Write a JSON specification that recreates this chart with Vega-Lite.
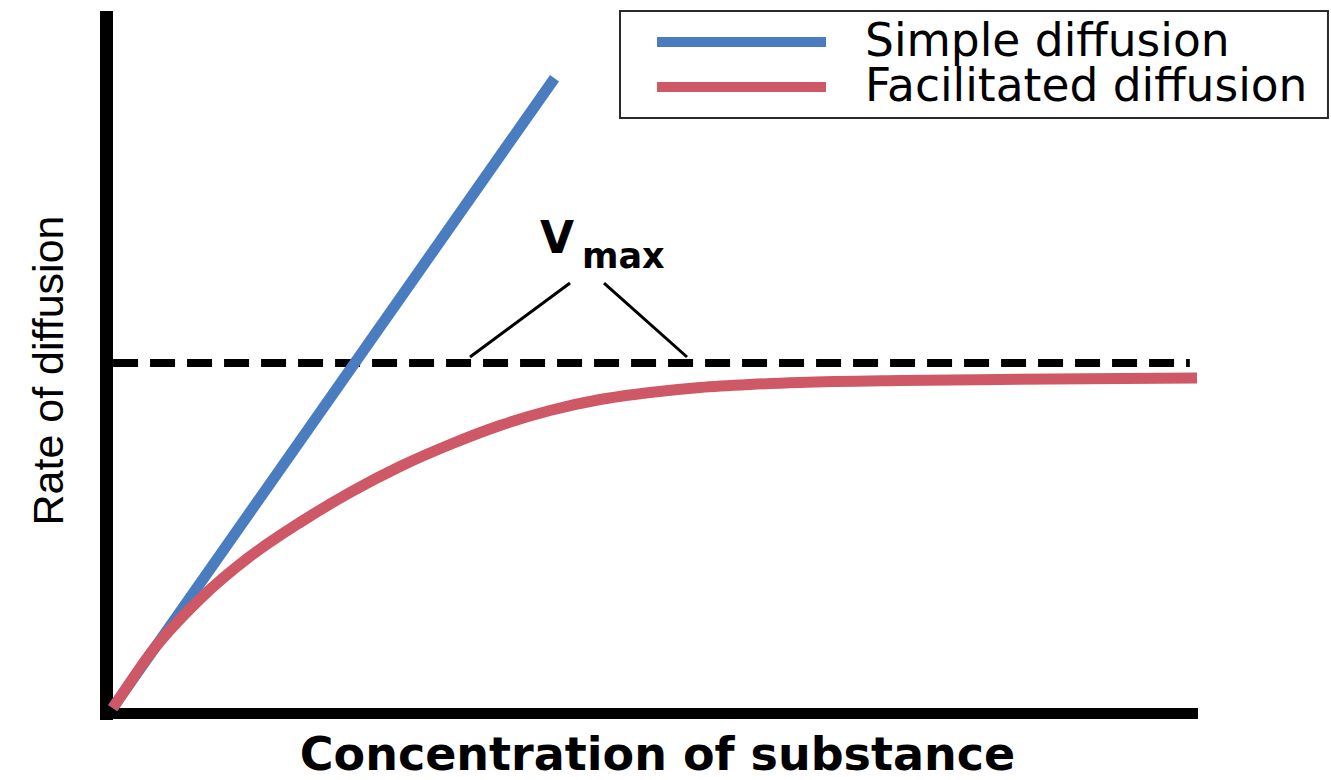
{
  "$schema": "https://vega.github.io/schema/vega-lite/v6.json",
  "width": 1086,
  "height": 696,
  "autosize": {"type": "none"},
  "padding": {"left": 106, "top": 17, "right": 139, "bottom": 67},
  "background": "white",
  "config": {"view": {"stroke": null}},
  "data": {"values": [{"note": "annotation"}]},
  "datasets": {
    "simple": [
      {"conc": 0.06, "rate": 0.07, "series": "Simple diffusion"},
      {"conc": 4.13, "rate": 9.12, "series": "Simple diffusion"}
    ],
    "facilitated": [
      {"conc": 0.064, "rate": 0.072, "series": "Facilitated diffusion"},
      {"conc": 0.175, "rate": 0.33, "series": "Facilitated diffusion"},
      {"conc": 0.405, "rate": 0.848, "series": "Facilitated diffusion"},
      {"conc": 0.866, "rate": 1.638, "series": "Facilitated diffusion"},
      {"conc": 1.326, "rate": 2.249, "series": "Facilitated diffusion"},
      {"conc": 1.786, "rate": 2.737, "series": "Facilitated diffusion"},
      {"conc": 2.247, "rate": 3.168, "series": "Facilitated diffusion"},
      {"conc": 2.707, "rate": 3.542, "series": "Facilitated diffusion"},
      {"conc": 3.168, "rate": 3.858, "series": "Facilitated diffusion"},
      {"conc": 3.628, "rate": 4.131, "series": "Facilitated diffusion"},
      {"conc": 4.088, "rate": 4.346, "series": "Facilitated diffusion"},
      {"conc": 4.549, "rate": 4.504, "series": "Facilitated diffusion"},
      {"conc": 5.009, "rate": 4.605, "series": "Facilitated diffusion"},
      {"conc": 5.47, "rate": 4.677, "series": "Facilitated diffusion"},
      {"conc": 5.93, "rate": 4.72, "series": "Facilitated diffusion"},
      {"conc": 6.39, "rate": 4.749, "series": "Facilitated diffusion"},
      {"conc": 7.311, "rate": 4.777, "series": "Facilitated diffusion"},
      {"conc": 8.232, "rate": 4.792, "series": "Facilitated diffusion"},
      {"conc": 10.046, "rate": 4.813, "series": "Facilitated diffusion"}
    ]
  },
  "layer": [
    {
      "data": {"name": "facilitated"},
      "mark": {"type": "line", "strokeWidth": 0, "opacity": 0},
      "encoding": {
        "x": {
          "field": "conc", "type": "quantitative",
          "scale": {"domain": [0, 10], "nice": false, "zero": false},
          "axis": {"title": "Concentration of substance", "ticks": false, "labels": false, "grid": false, "domain": true, "domainColor": "black", "domainWidth": 11, "domainCap": "square", "titleFont": "DejaVu Sans", "titleFontWeight": "bold", "titleFontSize": 46, "titleColor": "black", "titleAlign": "center", "titleBaseline": "alphabetic", "titleX": 551, "titleY": 56}
        },
        "y": {
          "field": "rate", "type": "quantitative",
          "scale": {"domain": [0, 10], "nice": false, "zero": false},
          "axis": {"title": "Rate of diffusion", "ticks": false, "labels": false, "grid": false, "domain": true, "domainColor": "black", "domainWidth": 13, "domainCap": "square", "titleFont": "Liberation Sans", "titleFontWeight": "normal", "titleFontSize": 43, "titleColor": "black", "titleAngle": -90, "titleAlign": "center", "titleBaseline": "alphabetic", "titleX": -44, "titleY": 353}
        }
      }
    },
    {
      "mark": {"type": "rect", "fill": "white", "stroke": "#2a2a2a", "strokeWidth": 2},
      "encoding": {
        "x": {"datum": 4.733, "type": "quantitative"},
        "x2": {"datum": 11.252},
        "y": {"datum": 10.086, "type": "quantitative"},
        "y2": {"datum": 8.549}
      }
    },
    {
      "mark": {"type": "rule", "color": "#4A7CC0", "strokeWidth": 10},
      "encoding": {
        "x": {"datum": 5.074, "type": "quantitative"},
        "x2": {"datum": 6.63},
        "y": {"datum": 9.641, "type": "quantitative"}
      }
    },
    {
      "mark": {"type": "rule", "color": "#CE5865", "strokeWidth": 10},
      "encoding": {
        "x": {"datum": 5.074, "type": "quantitative"},
        "x2": {"datum": 6.63},
        "y": {"datum": 8.994, "type": "quantitative"}
      }
    },
    {
      "mark": {"type": "text", "font": "DejaVu Sans", "fontSize": 45.5, "align": "left", "baseline": "alphabetic", "color": "black"},
      "encoding": {
        "x": {"datum": 6.989, "type": "quantitative"},
        "y": {"datum": 9.44, "type": "quantitative"},
        "text": {"value": "Simple diffusion"}
      }
    },
    {
      "mark": {"type": "text", "font": "DejaVu Sans", "fontSize": 45.5, "align": "left", "baseline": "alphabetic", "color": "black"},
      "encoding": {
        "x": {"datum": 6.989, "type": "quantitative"},
        "y": {"datum": 8.793, "type": "quantitative"},
        "text": {"value": "Facilitated diffusion"}
      }
    },
    {
      "mark": {"type": "rule", "color": "black", "strokeWidth": 8, "strokeDash": [25, 12]},
      "encoding": {
        "x": {"datum": 0.065, "type": "quantitative"},
        "x2": {"datum": 9.98},
        "y": {"datum": 5.029, "type": "quantitative"}
      }
    },
    {
      "mark": {"type": "rule", "color": "black", "strokeWidth": 3},
      "encoding": {
        "x": {"datum": 4.273, "type": "quantitative"},
        "y": {"datum": 6.178, "type": "quantitative"},
        "x2": {"datum": 3.352},
        "y2": {"datum": 5.115}
      }
    },
    {
      "mark": {"type": "rule", "color": "black", "strokeWidth": 3},
      "encoding": {
        "x": {"datum": 4.586, "type": "quantitative"},
        "y": {"datum": 6.178, "type": "quantitative"},
        "x2": {"datum": 5.35},
        "y2": {"datum": 5.115}
      }
    },
    {
      "mark": {"type": "text", "font": "DejaVu Sans", "fontWeight": "bold", "fontSize": 44, "align": "left", "baseline": "alphabetic", "color": "black"},
      "encoding": {
        "x": {"datum": 3.996, "type": "quantitative"},
        "y": {"datum": 6.609, "type": "quantitative"},
        "text": {"value": "V"}
      }
    },
    {
      "mark": {"type": "text", "font": "DejaVu Sans", "fontWeight": "bold", "fontSize": 35, "align": "left", "baseline": "alphabetic", "color": "black"},
      "encoding": {
        "x": {"datum": 4.383, "type": "quantitative"},
        "y": {"datum": 6.394, "type": "quantitative"},
        "text": {"value": "max"}
      }
    },
    {
      "data": {"name": "simple"},
      "mark": {"type": "line", "strokeWidth": 11, "strokeCap": "butt"},
      "encoding": {
        "x": {"field": "conc", "type": "quantitative"},
        "y": {"field": "rate", "type": "quantitative"},
        "color": {"field": "series", "type": "nominal", "scale": {"domain": ["Simple diffusion", "Facilitated diffusion"], "range": ["#4A7CC0", "#CE5865"]}, "legend": null}
      }
    },
    {
      "data": {"name": "facilitated"},
      "mark": {"type": "line", "strokeWidth": 11, "strokeCap": "butt", "interpolate": "monotone"},
      "encoding": {
        "x": {"field": "conc", "type": "quantitative"},
        "y": {"field": "rate", "type": "quantitative"},
        "color": {"field": "series", "type": "nominal", "legend": null}
      }
    }
  ]
}
